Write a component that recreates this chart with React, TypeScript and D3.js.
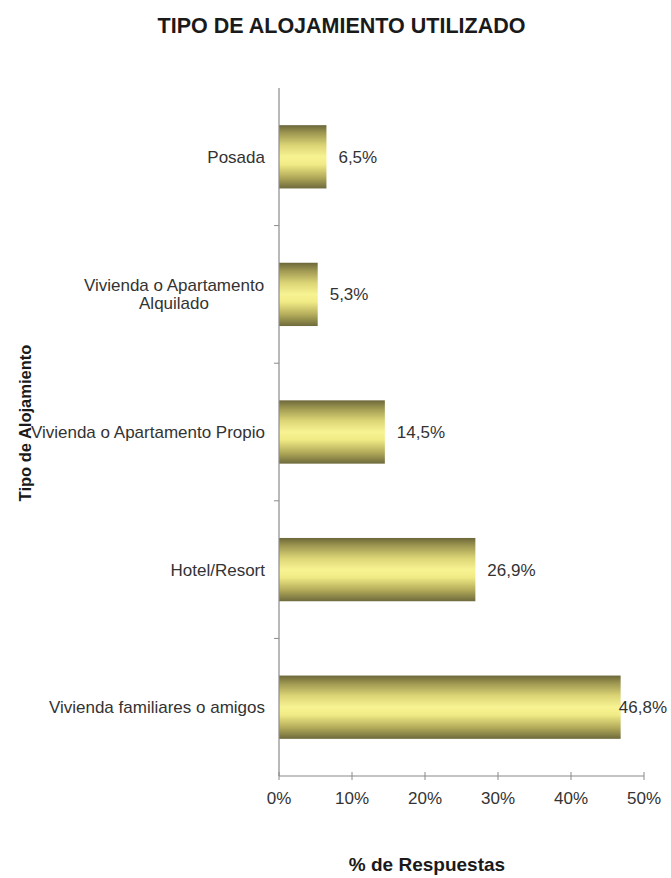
import React from "react";
import * as d3 from "d3";

const categories = [
  "Posada",
  "Vivienda o Apartamento\nAlquilado",
  "Vivienda o Apartamento Propio",
  "Hotel/Resort",
  "Vivienda familiares o amigos",
];
const values = [6.5, 5.3, 14.5, 26.9, 46.8];
const valueLabels = ["6,5%", "5,3%", "14,5%", "26,9%", "46,8%"];
const xTicks = [0, 10, 20, 30, 40, 50];
const title = "TIPO DE ALOJAMIENTO UTILIZADO";
const xTitle = "% de Respuestas";
const yTitle = "Tipo de Alojamiento";

const W = 671;
const H = 878;
const FONT = "'Liberation Sans', Arial, Helvetica, sans-serif";

export default function App() {
  const left = 279;
  const right = 644;
  const top = 88;
  const bottom = 776;

  const x = d3.scaleLinear().domain([0, 50]).range([left, right]);
  const y = d3
    .scaleBand<string>()
    .domain(categories)
    .range([top, bottom])
    .paddingInner(0.54)
    .paddingOuter(0.27);

  const step = y.step();
  const boundaries = d3.range(1, categories.length).map((i) => top + i * step);

  return (
    <div style={{ position: "absolute", top: 0, left: 0 }}>
      <svg width={W} height={H} style={{ display: "block", background: "#fff" }}>
        <defs>
          <linearGradient id="barGrad" x1="0" y1="0" x2="0" y2="1">
            <stop offset="0%" stopColor="#6c673a" />
            <stop offset="12%" stopColor="#9d9650" />
            <stop offset="32%" stopColor="#dcd576" />
            <stop offset="50%" stopColor="#f8f392" />
            <stop offset="62%" stopColor="#f1eb86" />
            <stop offset="82%" stopColor="#b4ac5a" />
            <stop offset="100%" stopColor="#6e6a3c" />
          </linearGradient>
        </defs>

        <text
          x={341.5}
          y={33}
          textAnchor="middle"
          fontFamily={FONT}
          fontWeight="bold"
          fontSize={21.5}
          fill="#1a1a1a"
        >
          {title}
        </text>

        {categories.map((c, i) => (
          <rect
            key={c}
            x={x(0)}
            y={y(c)!}
            width={x(values[i]) - x(0)}
            height={y.bandwidth()}
            fill="url(#barGrad)"
          />
        ))}

        {categories.map((c, i) => {
          const est = valueLabels[i].length * 0.68 * 17;
          const sx = x(values[i]) + 12;
          const overflow = sx + est > W - 4;
          return (
            <text
              key={c + "v"}
              x={overflow ? W - 4 : sx}
              y={y(c)! + y.bandwidth() / 2 + 6}
              textAnchor={overflow ? "end" : "start"}
              fontFamily={FONT}
              fontSize={17}
              fill="#333"
            >
              {valueLabels[i]}
            </text>
          );
        })}

        <line x1={left} x2={left} y1={top} y2={bottom} stroke="#8a8a8a" strokeWidth={1.2} />
        {boundaries.map((b) => (
          <line key={b} x1={left - 5} x2={left} y1={b} y2={b} stroke="#8a8a8a" strokeWidth={1} />
        ))}

        <line x1={left} x2={right} y1={bottom} y2={bottom} stroke="#8a8a8a" strokeWidth={1.2} />
        {xTicks.map((t) => (
          <g key={t}>
            <line x1={x(t)} x2={x(t)} y1={bottom - 4} y2={bottom + 4} stroke="#8a8a8a" strokeWidth={1} />
            <text
              x={x(t)}
              y={bottom + 28}
              textAnchor="middle"
              fontFamily={FONT}
              fontSize={17}
              fill="#333"
            >
              {t + "%"}
            </text>
          </g>
        ))}

        {categories.map((c) => {
          const lines = c.split("\n");
          const cy = y(c)! + y.bandwidth() / 2;
          const lh = 18;
          const startY = cy - ((lines.length - 1) * lh) / 2 + 6;
          const multi = lines.length > 1;
          return (
            <text
              key={c + "l"}
              fontFamily={FONT}
              fontSize={17}
              fill="#333"
              textAnchor={multi ? "middle" : "end"}
            >
              {lines.map((ln, j) => (
                <tspan key={j} x={multi ? 174 : 265} y={startY + j * lh}>
                  {ln}
                </tspan>
              ))}
            </text>
          );
        })}

        <text
          x={427}
          y={871}
          textAnchor="middle"
          fontFamily={FONT}
          fontWeight="bold"
          fontSize={19}
          fill="#1a1a1a"
        >
          {xTitle}
        </text>
        <text
          transform={`translate(31, 423) rotate(-90)`}
          textAnchor="middle"
          fontFamily={FONT}
          fontWeight="bold"
          fontSize={16.5}
          fill="#1a1a1a"
        >
          {yTitle}
        </text>
      </svg>
    </div>
  );
}
